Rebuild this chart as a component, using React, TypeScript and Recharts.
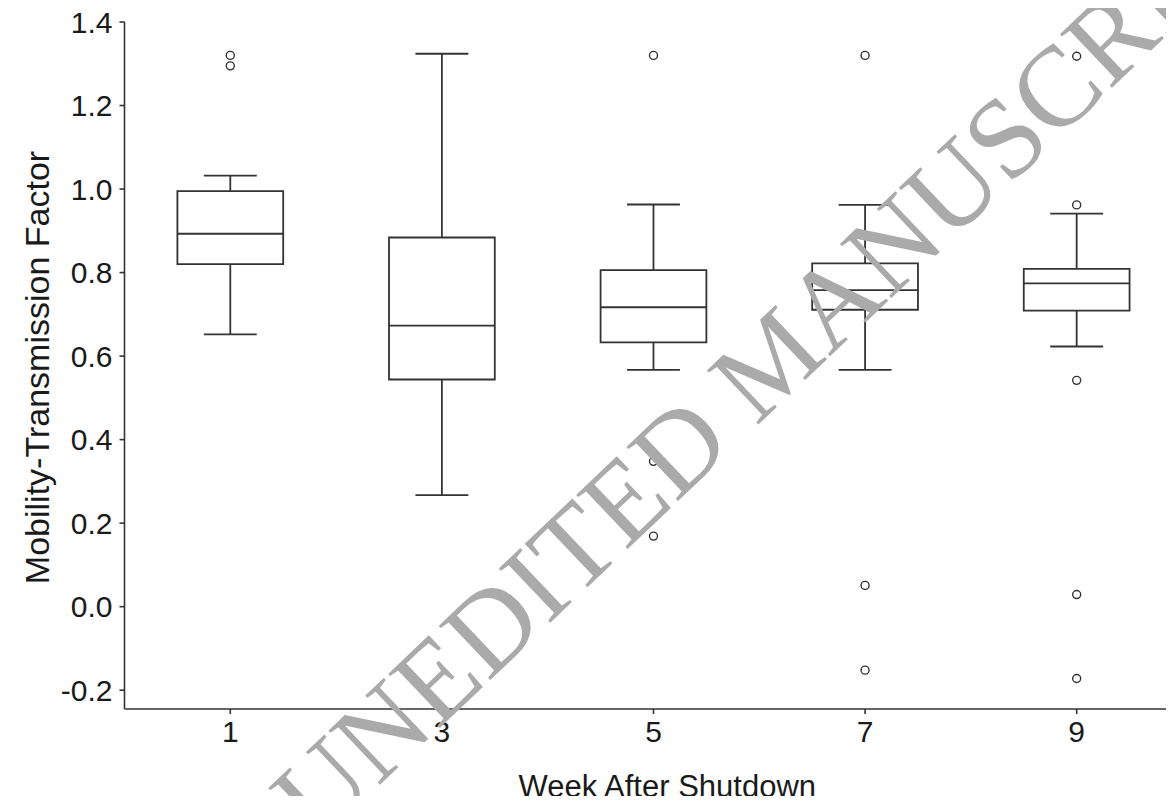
import React from 'react';
import {
  ComposedChart,
  XAxis,
  YAxis,
  Scatter,
  ReferenceArea,
  ReferenceLine,
} from 'recharts';

// weeks after shutdown
const weeks = [1, 3, 5, 7, 9];
// box stats per week
const whiskerLow = [0.652, 0.267, 0.567, 0.567, 0.623];
const q1 = [0.82, 0.544, 0.633, 0.711, 0.709];
const median = [0.893, 0.673, 0.717, 0.758, 0.774];
const q3 = [0.995, 0.884, 0.806, 0.822, 0.809];
const whiskerHigh = [1.032, 1.324, 0.963, 0.962, 0.941];

// outliers
const outlierWeek = [1, 1, 5, 5, 5, 7, 7, 7, 9, 9, 9, 9, 9];
const outlierValue = [1.32, 1.295, 1.32, 0.348, 0.169, 1.32, 0.051, -0.152, 1.318, 0.962, 0.542, 0.029, -0.172];

const yTicks = [-0.2, 0, 0.2, 0.4, 0.6, 0.8, 1.0, 1.2, 1.4];
const xTicks = [1, 3, 5, 7, 9];

const outliers = outlierWeek.map((w, i) => ({ x: w, y: outlierValue[i] }));

const INK = '#333';
const FONT = '"Liberation Sans", Arial, Helvetica, sans-serif';

const OutlierDot = (props: any) => {
  const { cx, cy } = props;
  return <circle cx={cx} cy={cy} r={4} fill="#fff" stroke={INK} strokeWidth={1.4} />;
};

const YTitle = (props: any) => {
  const { viewBox } = props;
  const x = 49;
  const y = viewBox.y + viewBox.height / 2 + 2;
  return (
    <text x={x} y={y} transform={`rotate(-90 ${x} ${y})`} textAnchor="middle" fill="#1a1a1a" fontSize={34} fontFamily={FONT}>
      Mobility-Transmission Factor
    </text>
  );
};

const XTitle = (props: any) => {
  const { viewBox } = props;
  const x = viewBox.x + viewBox.width / 2 + 18;
  return (
    <text x={x} y={797} textAnchor="middle" fill="#1a1a1a" fontSize={31} fontFamily={FONT}>
      Week After Shutdown
    </text>
  );
};

export default function App() {
  const tickStyle = { fill: '#1a1a1a', fontSize: 30, fontFamily: FONT };
  return (
    <div style={{ position: 'relative', width: 1174, height: 804, margin: -8, background: '#fff', overflow: 'hidden' }}>
      <ComposedChart width={1174} height={804} data={outliers} margin={{ top: 22, right: 0, bottom: 0, left: 0 }}>
        <XAxis
          type="number"
          dataKey="x"
          domain={[0, 9.92]}
          ticks={xTicks}
          allowDataOverflow
          height={95}
          stroke={INK}
          strokeWidth={1.6}
          tickSize={5}
          tickMargin={7}
          tick={tickStyle}
          label={<XTitle />}
        />
        <YAxis
          type="number"
          domain={[-0.245, 1.4]}
          ticks={yTicks}
          allowDataOverflow
          width={124.5}
          stroke={INK}
          strokeWidth={1.6}
          tickSize={5}
          tickMargin={7}
          tick={tickStyle}
          tickFormatter={(v: number) => v.toFixed(1)}
          label={<YTitle />}
        />
        {weeks.map((w, i) => (
          <ReferenceArea
            key={`box-${w}`}
            x1={w - 0.5}
            x2={w + 0.5}
            y1={q1[i]}
            y2={q3[i]}
            fill="none"
            fillOpacity={0}
            stroke={INK}
            strokeWidth={1.8}
            ifOverflow="visible"
          />
        ))}
        {weeks.map((w, i) => (
          <ReferenceLine key={`med-${w}`} segment={[{ x: w - 0.5, y: median[i] }, { x: w + 0.5, y: median[i] }]} stroke={INK} strokeWidth={1.8} ifOverflow="visible" />
        ))}
        {weeks.map((w, i) => (
          <ReferenceLine key={`wh-${w}`} segment={[{ x: w, y: q3[i] }, { x: w, y: whiskerHigh[i] }]} stroke={INK} strokeWidth={1.8} ifOverflow="visible" />
        ))}
        {weeks.map((w, i) => (
          <ReferenceLine key={`wl-${w}`} segment={[{ x: w, y: q1[i] }, { x: w, y: whiskerLow[i] }]} stroke={INK} strokeWidth={1.8} ifOverflow="visible" />
        ))}
        {weeks.map((w, i) => (
          <ReferenceLine key={`ch-${w}`} segment={[{ x: w - 0.25, y: whiskerHigh[i] }, { x: w + 0.25, y: whiskerHigh[i] }]} stroke={INK} strokeWidth={1.8} ifOverflow="visible" />
        ))}
        {weeks.map((w, i) => (
          <ReferenceLine key={`cl-${w}`} segment={[{ x: w - 0.25, y: whiskerLow[i] }, { x: w + 0.25, y: whiskerLow[i] }]} stroke={INK} strokeWidth={1.8} ifOverflow="visible" />
        ))}
        <Scatter dataKey="y" data={outliers} shape={<OutlierDot />} isAnimationActive={false} />
      </ComposedChart>
      <svg width={1174} height={804} style={{ position: 'absolute', left: 0, top: 0, pointerEvents: 'none' }}>
        <text
          x={803}
          y={382}
          textAnchor="middle"
          transform="rotate(-43.6 803 382)"
          fill="#aaaaaa"
          fontSize={114}
          fontFamily='"Liberation Serif", "Times New Roman", serif'
        >
          UNEDITED MANUSCRIPT
        </text>
      </svg>
    </div>
  );
}
